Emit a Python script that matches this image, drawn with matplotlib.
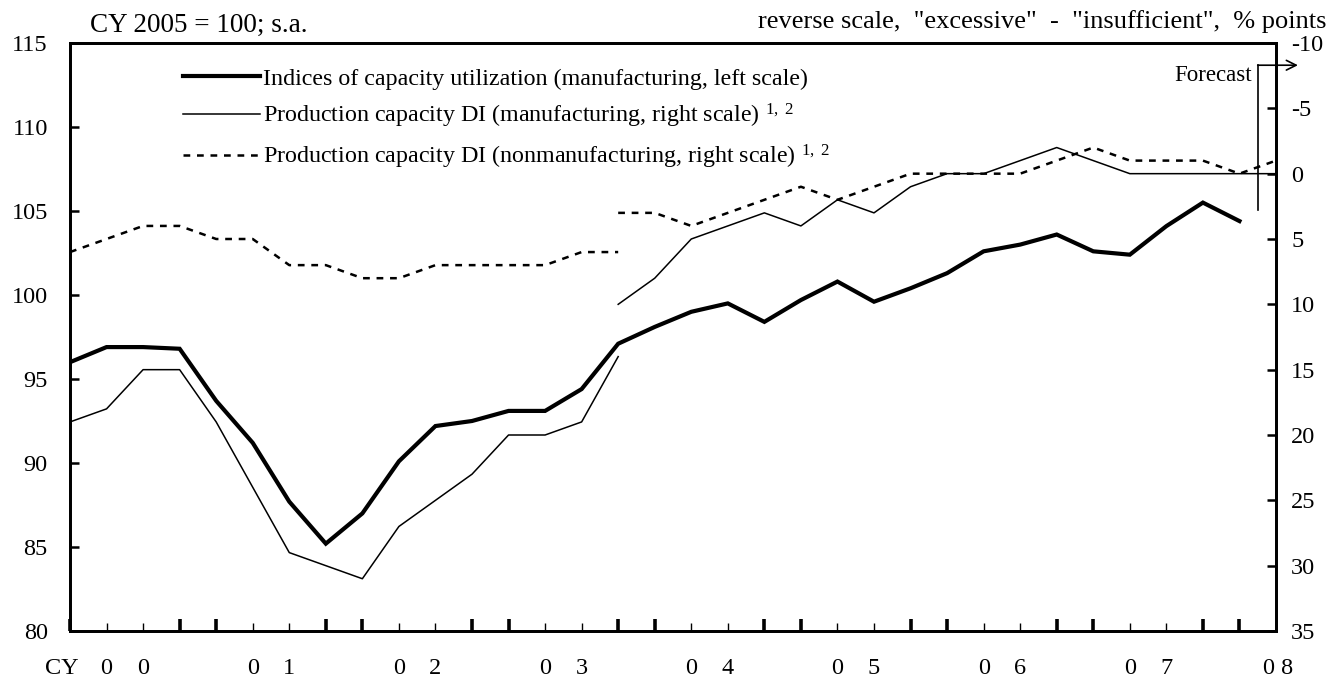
import matplotlib
matplotlib.use("Agg")
import matplotlib.pyplot as plt
import matplotlib.transforms as mtransforms
import numpy as np

plt.rcParams['font.family'] = ['Liberation Serif', 'DejaVu Serif']
plt.rcParams['mathtext.fontset'] = 'custom'
plt.rcParams['mathtext.rm'] = 'Liberation Serif'
plt.rcParams['mathtext.it'] = 'Liberation Serif'
plt.rcParams['axes.unicode_minus'] = False

# ---------------- data ----------------
# quarterly, index 0 = 2000Q1
capacity_util = [96.0, 96.9, 96.9, 96.8, 93.7, 91.2, 87.7, 85.2, 87.0, 90.1,
                 92.2, 92.5, 93.1, 93.1, 94.4, 97.1, 98.1, 99.0, 99.5, 98.4,
                 99.7, 100.8, 99.6, 100.4, 101.3, 102.6, 103.0, 103.6, 102.6,
                 102.4, 104.1, 105.5, 104.4]
# Production capacity DI, manufacturing (old basis idx 0-15, new basis idx 15-33)
di_mfg_old = [19, 18, 15, 15, 19, 24, 29, 30, 31, 27, 25, 23, 20, 20, 19, 14]
di_mfg_new = [10, 8, 5, 4, 3, 4, 2, 3, 1, 0, 0, -1, -2, -1, 0, 0, 0, 0, 0]
# Production capacity DI, nonmanufacturing
di_nonmfg_old = [6, 5, 4, 4, 5, 5, 7, 7, 8, 8, 7, 7, 7, 7, 6, 6]
di_nonmfg_new = [3, 3, 4, 3, 2, 1, 2, 1, 0, 0, 0, 0, -1, -2, -1, -1, -1, 0, -1]

new_basis_start = 15
years = ["00", "01", "02", "03", "04", "05", "06", "07"]
last_year_label = "0 8"
left_ticks = [80, 85, 90, 95, 100, 105, 110, 115]
right_ticks = [-10, -5, 0, 5, 10, 15, 20, 25, 30, 35]

labels = ["Indices of capacity utilization (manufacturing, left scale)",
          r"Production capacity DI (manufacturing, right scale) $^{1,\ 2}$",
          r"Production capacity DI (nonmanufacturing, right scale) $^{1,\ 2}$"]

# ---------------- figure ----------------
fig = plt.figure(figsize=(13.35, 6.83), dpi=100)
ax = fig.add_axes([70/1335, 1-631/683, (1276-70)/1335, (631-43)/683])
ax2 = ax.twinx()

x_cu = np.arange(len(capacity_util))
x_old = np.arange(len(di_mfg_old))
x_new = np.arange(new_basis_start, new_basis_start + len(di_mfg_new))

l1, = ax.plot(x_cu, capacity_util, color='black', lw=3.0, solid_joinstyle='miter', zorder=5)
l2, = ax2.plot(x_old, di_mfg_old, color='black', lw=1.1)
ax2.plot(x_new, di_mfg_new, color='black', lw=1.1)
l3, = ax2.plot(x_old, di_nonmfg_old, color='black', lw=1.8, dashes=(2.7, 2.7))
ax2.plot(x_new, di_nonmfg_new, color='black', lw=1.8, dashes=(2.7, 2.7))

ax.set_xlim(0, 33)
ax.set_ylim(80, 115)
ax2.set_ylim(35, -10)

ax.set_yticks(left_ticks)
ax2.set_yticks(right_ticks)

for a in (ax, ax2):
    for s in a.spines.values():
        s.set_linewidth(2.0)

ax.tick_params(axis='y', direction='in', length=6.5, width=1.8, labelsize=17.5, pad=16)
ax2.tick_params(axis='y', direction='in', length=6.5, width=1.8, labelsize=17.5, pad=11)

# x ticks: big at year boundaries, small within
n_q = 34
big = [i for i in range(n_q) if i % 4 in (0, 3)]
small = [i for i in range(n_q) if i % 4 in (1, 2)]
ax.set_xticks(big)
ax.set_xticks(small, minor=True)
ax.tick_params(axis='x', which='major', direction='in', length=8.5, width=2.6, labelbottom=False)
ax.tick_params(axis='x', which='minor', direction='in', length=5.8, width=1.0, labelbottom=False)

trans = mtransforms.blended_transform_factory(ax.transData, ax.transAxes)
ylab = -0.063
ax.text(-0.22, ylab, "CY", transform=trans, ha='center', va='center', fontsize=17.5)
for k, yr in enumerate(years):
    ax.text(4*k + 1, ylab, yr[0], transform=trans, ha='center', va='center', fontsize=17.5)
    ax.text(4*k + 2, ylab, yr[1], transform=trans, ha='center', va='center', fontsize=17.5)
ax.text(33.05, ylab, last_year_label, transform=trans, ha='center', va='center', fontsize=17.5)

# header texts
fig.text(90/1335, 1-25/683, "CY 2005 = 100; s.a.", ha='left', va='center', fontsize=19.5)
fig.text(1327/1335, 1-22/683, 'reverse scale,  "excessive"  -  "insufficient",  % points',
         ha='right', va='center', fontsize=19)

# legend
leg = ax.legend([l1, l2, l3], labels, loc='upper left', bbox_to_anchor=(0.0935, 0.958),
                frameon=False, fontsize=17.3, handlelength=3.2, handletextpad=0.15,
                labelspacing=0.52, borderaxespad=0, borderpad=0)

# forecast marker
forecast_x = 32.5
fc_bottom, fc_top, arrow_end = 2.8, -8.3, 33.6
ax2.plot([forecast_x, forecast_x], [fc_bottom, fc_top], color='black', lw=1.2, clip_on=False)
ax2.annotate('', xy=(arrow_end, fc_top), xytext=(forecast_x, fc_top),
             arrowprops=dict(arrowstyle='->,head_length=0.7,head_width=0.35', lw=1.2,
                             color='black', shrinkA=0, shrinkB=0),
             annotation_clip=False)
ax2.text(32.35, -7.5, "Forecast", ha='right', va='center', fontsize=16.5)

fig.savefig("out.png", dpi=100)
